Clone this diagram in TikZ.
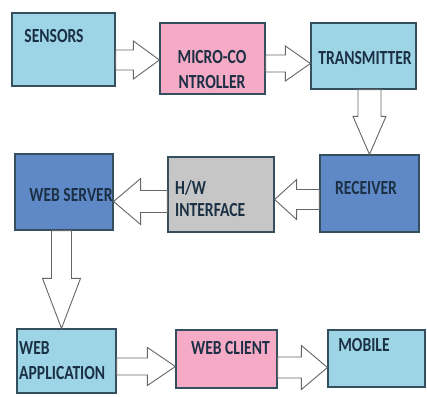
\documentclass[tikz,border=0pt]{standalone}
\usepackage{fontspec}
\setmainfont[FakeStretch=0.78]{Carlito}
\usepackage{tikz}
\usetikzlibrary{calc}
\definecolor{skyfill}{HTML}{9DD5E7}
\definecolor{pinkfill}{HTML}{F5AAC6}
\definecolor{greyfill}{HTML}{C6C6C6}
\definecolor{navyfill}{HTML}{5F88C6}
\definecolor{boxedge}{HTML}{34505E}
\definecolor{arrowedge}{HTML}{666666}
\definecolor{labelink}{HTML}{1B3044}
\tikzset{
  block/.style={draw=boxedge,line width=1.2pt,inner sep=0pt},
  skybox/.style={block,fill=skyfill},
  pinkbox/.style={block,fill=pinkfill},
  greybox/.style={block,fill=greyfill},
  navybox/.style={block,fill=navyfill},
  boxlabel/.style={font=\fontsize{20}{25}\selectfont\bfseries,text=labelink,inner sep=0pt,align=center},
  fatw/.store in=\fatw, fatW/.store in=\fatW, fatL/.store in=\fatL,
  fatw=10pt, fatW=19pt, fatL=26pt,
  fatarrow/.style={draw=arrowedge,fill=white,line width=0.9pt,line join=miter,
    to path={
      ($(\tikztotarget)!\fatL!(\tikztostart)$) coordinate (fh)
      ($(\tikztostart)!\fatw!90:(\tikztotarget)$) -- ($(fh)!\fatw!90:(\tikztotarget)$)
      -- ($(fh)!\fatW!90:(\tikztotarget)$) -- (\tikztotarget)
      -- ($(fh)!\fatW!-90:(\tikztotarget)$) -- ($(fh)!\fatw!-90:(\tikztotarget)$)
      -- ($(\tikztostart)!\fatw!-90:(\tikztotarget)$) -- cycle}}
}
\begin{document}
\begin{tikzpicture}[x=1pt,y=-1pt]
  \fill[white] (0,0) rectangle (427,396);
  \useasboundingbox (0,0) rectangle (427,396);
  % boxes
  \node[skybox,minimum width=103pt,minimum height=73pt] (sens) at (63.5,49.5) {};
  \node[pinkbox,minimum width=105pt,minimum height=71pt] (mic) at (212.5,58.5) {};
  \node[skybox,minimum width=105pt,minimum height=66pt] (trans) at (363.5,56) {};
  \node[navybox,minimum width=99pt,minimum height=77pt] (recv) at (369.5,193.5) {};
  \node[greybox,minimum width=106pt,minimum height=75pt] (hw) at (221,194.5) {};
  \node[navybox,minimum width=98pt,minimum height=76pt] (ws) at (64,192) {};
  \node[skybox,minimum width=99pt,minimum height=64pt] (wa) at (66.5,361) {};
  \node[pinkbox,minimum width=101pt,minimum height=58pt] (wc) at (226.5,359) {};
  \node[skybox,minimum width=97pt,minimum height=57pt] (mob) at (376.5,358.5) {};
  % labels
  \node[boxlabel] (sens-t) at (54,36) {SENSORS};
  \node[boxlabel] (mic-t) at (212,69.5) {MICRO-CO\\NTROLLER};
  \node[boxlabel] (trans-t) at (365,58) {TRANSMITTER};
  \node[boxlabel] (recv-t) at (366,188) {RECEIVER};
  \node[boxlabel,align=left,anchor=west,font=\fontsize{20}{22}\selectfont\bfseries] (hw-t) at (175,199) {H/W\\INTERFACE};
  \node[boxlabel] (ws-t) at (71,195) {WEB SERVER};
  \node[boxlabel,align=left,anchor=west] (wa-t) at (19,360.5) {WEB\\APPLICATION};
  \node[boxlabel] (wc-t) at (230.5,348) {WEB CLIENT};
  \node[boxlabel] (mob-t) at (364,345) {MOBILE};
  % block arrows
  \draw[fatarrow] ([yshift=-1.5pt]sens.east |- mic.west) to ([yshift=-1.5pt]mic.west);
  \draw[fatarrow,fatw=8.5pt,fatW=17.5pt,fatL=25pt] ([yshift=-5pt]mic.east) to ([yshift=-5pt]mic.east -| trans.west);
  \draw[fatarrow,fatw=11.5pt,fatW=16.5pt,fatL=38pt] (recv.north |- trans.south) to (recv.north);
  \draw[fatarrow,fatW=20pt,fatL=22pt] ([yshift=-6pt]recv.west) to ([yshift=-6pt]recv.west -| hw.east);
  \draw[fatarrow,fatw=11pt,fatW=23pt,fatL=27pt] ([yshift=-7pt]hw.west) to ([yshift=-7pt]hw.west -| ws.east);
  \draw[fatarrow,fatW=19pt,fatL=50pt] ([xshift=-2.5pt]ws.south) to ([xshift=-2.5pt]ws.south |- wa.north);
  \draw[fatarrow,fatw=8.5pt,fatL=28pt] ([yshift=-5.5pt]wa.east) to ([yshift=-5.5pt]wa.east -| wc.west);
  \draw[fatarrow,fatw=10.5pt,fatW=22pt,fatL=26pt] ([yshift=-8.5pt]wc.east) to ([yshift=-8.5pt]wc.east -| mob.west);
\end{tikzpicture}
\end{document}
